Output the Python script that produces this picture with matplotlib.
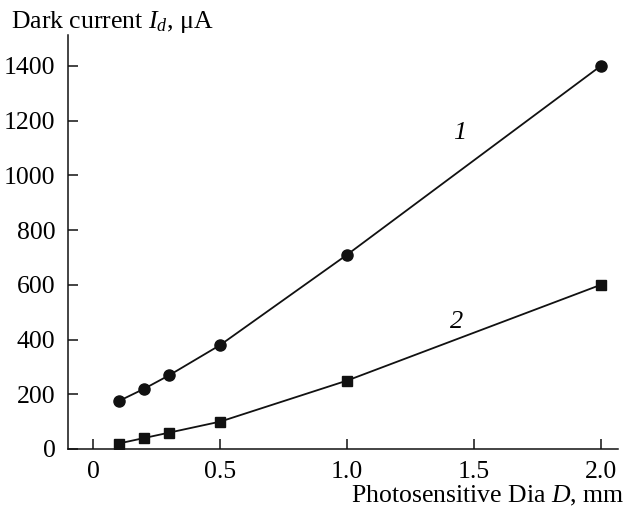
import matplotlib
matplotlib.use("Agg")
import matplotlib.pyplot as plt

# data
diameter = [0.1, 0.2, 0.3, 0.5, 1.0, 2.0]
dark_current_1 = [175, 220, 270, 380, 710, 1400]
dark_current_2 = [20, 40, 60, 100, 250, 600]
x_ticks = [0, 0.5, 1.0, 1.5, 2.0]
x_tick_labels = ["0", "0.5", "1.0", "1.5", "2.0"]
y_ticks = [0, 200, 400, 600, 800, 1000, 1200, 1400]

plt.rcParams['font.family'] = ['Liberation Serif', 'DejaVu Serif']
plt.rcParams['mathtext.fontset'] = 'custom'
plt.rcParams['mathtext.rm'] = 'Liberation Serif'
plt.rcParams['mathtext.it'] = 'Liberation Serif:italic'

fig = plt.figure(figsize=(6.26, 5.14), dpi=100)
ax = fig.add_axes([0.1086, 0.1265, 0.8784, 0.8055])

ax.plot(diameter, dark_current_1, color='#111111', lw=1.3, marker='o', ms=8)
ax.plot(diameter, dark_current_2, color='#111111', lw=1.3, marker='s', ms=7)

ax.text(1.445, 1155, "1", fontsize=19, style='italic', ha='center', va='center')
ax.text(1.433, 464, "2", fontsize=19, style='italic', ha='center', va='center')

ax.set_xlim(-0.1, 2.067)
ax.set_ylim(0, 1513)
ax.set_xticks(x_ticks)
ax.set_xticklabels(x_tick_labels)
ax.set_yticks(y_ticks)
ax.tick_params(direction='in', length=7, width=1.1, labelsize=18.5, color='#111111')
ax.tick_params(axis='y', pad=9)
ax.tick_params(axis='x', pad=9)
for s in ['top', 'right']:
    ax.spines[s].set_visible(False)
for s in ['left', 'bottom']:
    ax.spines[s].set_linewidth(1.1)
    ax.spines[s].set_color('#111111')

fig.text(11 / 626, 1 - 22 / 514, r"Dark current $I_d$, μA", fontsize=18.5,
         ha='left', va='center')
fig.text(624 / 626, 1 - 496 / 514, r"Photosensitive Dia $D$, mm", fontsize=18.5,
         ha='right', va='center')

fig.savefig("out.png", dpi=100)
